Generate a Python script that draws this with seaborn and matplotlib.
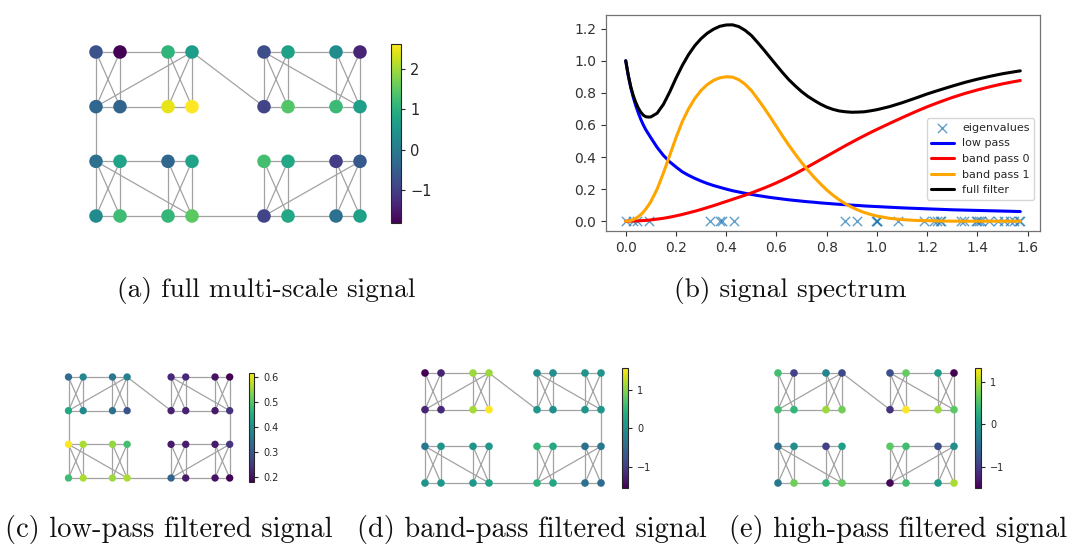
import numpy as np
import pandas as pd
import matplotlib
matplotlib.use("Agg")
import matplotlib.pyplot as plt
import seaborn as sns
from matplotlib.colors import Normalize
from matplotlib.cm import ScalarMappable
from matplotlib.collections import LineCollection

# --- graph layout: node columns / rows ---
cols = [0, 1, 3, 4, 7, 8, 10, 11]
rows = [0, 1, 2, 3]

# node signals, one list of 8 nodes per row
full_signal = [
    [-0.70, -1.81, 1.07, 0.63, -0.75, 0.72, 0.32, -1.37],
    [-0.35, -0.40, 2.45, 2.62, -0.92, 1.42, 1.20, 0.67],
    [-0.17, 0.76, -0.35, 0.76, 1.29, 0.85, -1.01, -0.57],
    [0.32, 1.25, 1.12, 1.51, -0.92, 0.85, -0.17, 0.72],
]
low_signal = [
    [0.33, 0.38, 0.35, 0.37, 0.23, 0.23, 0.20, 0.18],
    [0.44, 0.385, 0.34, 0.29, 0.22, 0.22, 0.21, 0.245],
    [0.616, 0.56, 0.545, 0.485, 0.21, 0.21, 0.21, 0.245],
    [0.48, 0.56, 0.55, 0.56, 0.32, 0.21, 0.20, 0.18],
]
band_signal = [
    [-1.56, -1.25, 1.10, 1.10, 0.00, 0.00, 0.07, 0.07],
    [-1.25, -1.20, 1.15, 1.57, 0.10, 0.00, 0.07, 0.07],
    [-0.31, 0.08, 0.08, 0.10, 0.50, 0.32, -0.40, -0.30],
    [0.05, 0.10, 0.10, 0.25, 0.45, 0.30, -0.40, -0.45],
]
high_signal = [
    [0.47, -0.94, -0.23, -0.88, -0.82, 0.64, 0.05, -1.50],
    [0.47, 0.36, 0.90, 0.70, -1.10, 1.32, 0.90, 0.60],
    [-0.46, -0.09, -0.94, 0.08, 0.60, 0.47, -0.82, -0.10],
    [-0.37, 0.70, 0.36, 0.64, -1.45, 0.47, 0.05, 0.95],
]

# edges as (row, col index) pairs
cluster_corners = [(0, 0), (0, 2), (0, 4), (0, 6), (2, 0), (2, 2), (2, 4), (2, 6)]
bridge_edges = [
    ((0, 1), (0, 2)), ((1, 1), (1, 2)), ((1, 0), (0, 3)),
    ((0, 5), (0, 6)), ((1, 5), (1, 6)), ((0, 4), (1, 7)),
    ((2, 1), (2, 2)), ((3, 1), (3, 2)), ((2, 0), (3, 3)),
    ((2, 5), (2, 6)), ((3, 5), (3, 6)), ((3, 4), (2, 7)),
    ((0, 3), (1, 4)), ((1, 0), (2, 0)), ((1, 7), (2, 7)), ((3, 3), (3, 4)),
]

# --- spectrum ---
spec_x = [0, 0.01, 0.02, 0.03, 0.04, 0.05, 0.06, 0.07, 0.08, 0.09, 0.10,
          0.125, 0.15, 0.175, 0.20, 0.225, 0.25, 0.275, 0.30, 0.325, 0.35, 0.375, 0.40,
          0.425, 0.45, 0.475, 0.50, 0.525, 0.55, 0.575, 0.60, 0.625, 0.65, 0.675, 0.70,
          0.725, 0.75, 0.775, 0.80, 0.825, 0.85, 0.875, 0.90, 0.925, 0.95, 0.975, 1.00,
          1.05, 1.10, 1.15, 1.20, 1.25, 1.30, 1.35, 1.40, 1.45, 1.50, 1.55, 1.5708]
low_pass = [1.000, 0.909, 0.833, 0.772, 0.720, 0.675, 0.635, 0.600, 0.570, 0.545, 0.520,
            0.460, 0.410, 0.370, 0.338, 0.308, 0.286, 0.267, 0.250, 0.235, 0.222, 0.211, 0.200,
            0.190, 0.182, 0.174, 0.167, 0.160, 0.154, 0.148, 0.143, 0.138, 0.133, 0.129, 0.125,
            0.121, 0.118, 0.114, 0.111, 0.108, 0.105, 0.103, 0.100, 0.098, 0.095, 0.093, 0.091,
            0.087, 0.083, 0.080, 0.077, 0.074, 0.071, 0.069, 0.067, 0.065, 0.063, 0.061, 0.060]
band_pass0 = [0, 0.0002, 0.0005, 0.001, 0.0015, 0.002, 0.003, 0.004, 0.005, 0.006, 0.008,
              0.013, 0.018, 0.025, 0.033, 0.042, 0.052, 0.062, 0.073, 0.085, 0.097, 0.110, 0.123,
              0.136, 0.149, 0.162, 0.176, 0.191, 0.206, 0.222, 0.239, 0.257, 0.276, 0.296, 0.317,
              0.339, 0.361, 0.383, 0.405, 0.427, 0.449, 0.471, 0.492, 0.513, 0.533, 0.553, 0.572,
              0.609, 0.645, 0.680, 0.713, 0.743, 0.771, 0.796, 0.818, 0.838, 0.856, 0.871, 0.877]
band_pass1 = [0, 0.001, 0.004, 0.010, 0.018, 0.028, 0.041, 0.057, 0.076, 0.098, 0.122,
              0.200, 0.300, 0.410, 0.520, 0.620, 0.700, 0.765, 0.815, 0.852, 0.878, 0.894, 0.900,
              0.898, 0.882, 0.854, 0.815, 0.763, 0.708, 0.650, 0.590, 0.530, 0.472, 0.418, 0.366,
              0.318, 0.274, 0.233, 0.195, 0.162, 0.133, 0.108, 0.087, 0.069, 0.054, 0.042, 0.032,
              0.018, 0.010, 0.005, 0.003, 0.001, 0, 0, 0, 0, 0, 0, 0]
full_filter = [1.000, 0.910, 0.838, 0.783, 0.740, 0.705, 0.679, 0.661, 0.651, 0.649, 0.650,
               0.673, 0.728, 0.805, 0.891, 0.970, 1.038, 1.094, 1.138, 1.172, 1.197, 1.215, 1.223,
               1.224, 1.213, 1.190, 1.158, 1.114, 1.068, 1.020, 0.972, 0.925, 0.881, 0.843, 0.808,
               0.778, 0.753, 0.730, 0.711, 0.697, 0.687, 0.682, 0.679, 0.680, 0.682, 0.688, 0.695,
               0.714, 0.738, 0.765, 0.793, 0.818, 0.842, 0.865, 0.885, 0.903, 0.919, 0.932, 0.937]
eigenvalues = sorted([0.0, 0.03, 0.045, 0.092, 0.337, 0.376, 0.385, 0.432, 0.873, 0.922,
                      0.995, 1.0, 1.0, 1.083, 1.186, 1.226, 1.24, 1.25, 1.257, 1.336, 1.346,
                      1.394, 1.40, 1.405, 1.415, 1.448, 1.481, 1.508, 1.528, 1.547, 1.565, 1.57])

captions = ["(a) full multi-scale signal", "(b) signal spectrum",
            "(c) low-pass filtered signal", "(d) band-pass filtered signal",
            "(e) high-pass filtered signal"]

sns.set_theme(style="ticks")
plt.rcParams["font.family"] = ["DejaVu Sans"]

W, H = 1080, 549
fig = plt.figure(figsize=(W / 100, H / 100), dpi=100)


def px_axes(left, top, right, bottom):
    return fig.add_axes([left / W, 1 - bottom / H, (right - left) / W, (bottom - top) / H])


def edge_segments():
    segs = []
    for r0, c0 in cluster_corners:
        quad = [(r0, c0), (r0, c0 + 1), (r0 + 1, c0), (r0 + 1, c0 + 1)]
        for i in range(4):
            for j in range(i + 1, 4):
                segs.append((quad[i], quad[j]))
    segs += bridge_edges
    return [[(cols[a[1]], rows[a[0]]), (cols[b[1]], rows[b[0]])] for a, b in segs]


def draw_graph(node_box, cbar_box, signal, node_size, ticks, tick_size):
    x0, x1, y0, y1 = node_box
    pad = 10
    ax = px_axes(x0 - pad, y0 - pad, x1 + pad, y1 + pad)
    sx = (x1 - x0) / (cols[-1] - cols[0])
    sy = (y1 - y0) / (rows[-1] - rows[0])

    lc = LineCollection(edge_segments(), colors="#a2a2a2", linewidths=0.9, zorder=1)
    ax.add_collection(lc)

    df = pd.DataFrame({
        "x": [cols[c] for r in range(len(rows)) for c in range(len(cols))],
        "y": [rows[r] for r in range(len(rows)) for c in range(len(cols))],
        "v": np.ravel(signal),
    })
    norm = Normalize(df["v"].min(), df["v"].max())
    sns.scatterplot(data=df, x="x", y="y", hue="v", palette="viridis", hue_norm=norm,
                    s=node_size, linewidth=0, legend=False, ax=ax, zorder=3)
    ax.set_xlim(cols[0] - pad / sx, cols[-1] + pad / sx)
    ax.set_ylim(rows[-1] + pad / sy, rows[0] - pad / sy)
    ax.axis("off")

    cax = px_axes(*cbar_box)
    cb = fig.colorbar(ScalarMappable(norm=norm, cmap="viridis"), cax=cax, ticks=ticks)
    cb.ax.tick_params(labelsize=tick_size, length=3, width=0.8)
    cb.outline.set_linewidth(0.8)
    return ax


# (a) full signal
draw_graph((96, 360, 52, 216), (391, 44, 401, 223), full_signal, 95, [-1, 0, 1, 2], 10.5)
# (c), (d), (e)
draw_graph((68.5, 229.7, 377, 478), (249, 373, 254, 482), low_signal, 28,
           [0.2, 0.3, 0.4, 0.5, 0.6], 7)
draw_graph((425, 601, 373, 483), (622, 368, 628, 488), band_signal, 30, [-1, 0, 1], 7)
draw_graph((778, 954, 373, 483), (975, 368, 981, 488), high_signal, 30, [-1, 0, 1], 7)

# (b) spectrum
axb = px_axes(606, 15, 1040, 231)
sns.scatterplot(x=eigenvalues, y=np.zeros(len(eigenvalues)), marker="x", color="#1f77b4",
                alpha=0.7, s=45, linewidth=1.0, label="eigenvalues", ax=axb)
for vals, color, name in [(low_pass, "blue", "low pass"), (band_pass0, "red", "band pass 0"),
                          (band_pass1, "orange", "band pass 1"), (full_filter, "black", "full filter")]:
    sns.lineplot(x=spec_x, y=vals, color=color, linewidth=2.2, label=name, ax=axb)
axb.set_xticks(np.arange(0, 1.61, 0.2))
axb.set_yticks(np.arange(0, 1.21, 0.2))
axb.tick_params(labelsize=10, length=3.5, width=0.8, colors=".2")
for s in axb.spines.values():
    s.set_color(".45")
    s.set_linewidth(0.9)
axb.legend(loc="lower right", bbox_to_anchor=(1.0, 0.12), fontsize=8, frameon=True,
           edgecolor=".8", fancybox=True)

# captions
cap_pos = [(266, 297, 19.7), (790, 297, 19.7), (169, 537, 20.5), (532, 537, 20.5), (898, 537, 20.5)]
for text, (cx, cy, fs) in zip(captions, cap_pos):
    fig.text(cx / W, 1 - cy / H, text, ha="center", va="baseline", fontsize=fs,
             family="cmr10", color="#111111")

fig.savefig("out.png", dpi=100)
